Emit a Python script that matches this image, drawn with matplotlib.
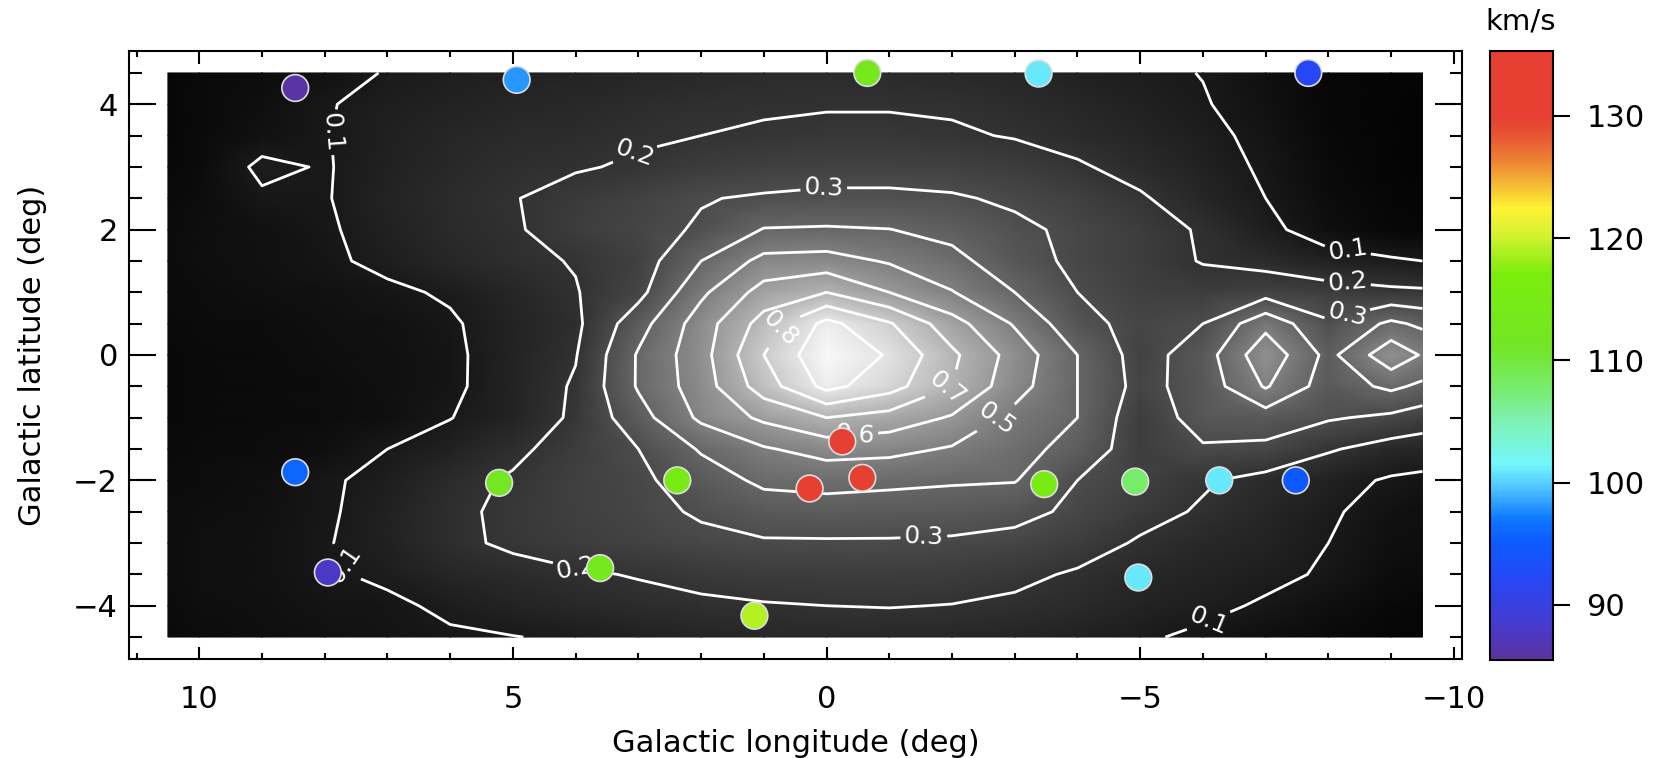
import numpy as np
import matplotlib
matplotlib.use("Agg")
import matplotlib.pyplot as plt
from matplotlib.colors import LinearSegmentedColormap
from matplotlib.ticker import MultipleLocator

plt.rcParams['font.family'] = ['DejaVu Sans']

# -----------------------
# Density map (coarse grid)
# -----------------------
lon_grid = [10.5, 10, 9, 8, 7, 6, 5, 4, 3, 2, 1, 0, -1, -2, -3, -4, -5, -6, -7, -8, -9, -9.5]
lat_grid = [4.5, 4.0, 3.5, 3.0, 2.5, 2.0, 1.5, 1.0, 0.5, 0.0,
            -0.5, -1.0, -1.5, -2.0, -2.5, -3.0, -3.5, -4.0, -4.5]

density = [
    [0.03, 0.04, 0.05, 0.07, 0.105, 0.12, 0.13, 0.14, 0.15, 0.16, 0.17, 0.17, 0.17, 0.16, 0.15, 0.13, 0.115, 0.098, 0.06, 0.03, 0.02, 0.02],
    [0.03, 0.04, 0.06, 0.095, 0.12, 0.135, 0.15, 0.16, 0.175, 0.185, 0.19, 0.195, 0.195, 0.19, 0.175, 0.155, 0.13, 0.105, 0.07, 0.03, 0.02, 0.015],
    [0.03, 0.04, 0.07, 0.097, 0.125, 0.15, 0.165, 0.175, 0.19, 0.2, 0.21, 0.215, 0.215, 0.21, 0.195, 0.17, 0.145, 0.12, 0.08, 0.035, 0.02, 0.015],
    [0.035, 0.045, 0.115, 0.095, 0.13, 0.16, 0.18, 0.193, 0.21, 0.235, 0.25, 0.26, 0.26, 0.255, 0.24, 0.21, 0.17, 0.13, 0.09, 0.04, 0.02, 0.015],
    [0.04, 0.05, 0.09, 0.095, 0.14, 0.17, 0.196, 0.23, 0.26, 0.295, 0.31, 0.32, 0.32, 0.31, 0.285, 0.25, 0.21, 0.15, 0.1, 0.05, 0.025, 0.02],
    [0.045, 0.055, 0.07, 0.09, 0.13, 0.165, 0.19, 0.24, 0.27, 0.31, 0.405, 0.41, 0.402, 0.37, 0.32, 0.28, 0.24, 0.19, 0.12, 0.06, 0.03, 0.025],
    [0.045, 0.055, 0.07, 0.085, 0.12, 0.155, 0.18, 0.205, 0.25, 0.4, 0.53, 0.54, 0.49, 0.43, 0.34, 0.28, 0.24, 0.195, 0.17, 0.13, 0.11, 0.1],
    [0.045, 0.05, 0.06, 0.07, 0.085, 0.11, 0.15, 0.195, 0.27, 0.48, 0.64, 0.7, 0.6, 0.505, 0.4, 0.3, 0.25, 0.24, 0.26, 0.24, 0.22, 0.215],
    [0.04, 0.045, 0.05, 0.06, 0.07, 0.09, 0.14, 0.18, 0.36, 0.55, 0.74, 0.93, 0.81, 0.64, 0.49, 0.33, 0.27, 0.3, 0.47, 0.31, 0.42, 0.38],
    [0.035, 0.04, 0.045, 0.055, 0.065, 0.085, 0.138, 0.195, 0.41, 0.56, 0.8, 0.98, 0.89, 0.72, 0.56, 0.4, 0.26, 0.35, 0.57, 0.37, 0.57, 0.49],
    [0.035, 0.04, 0.045, 0.05, 0.065, 0.085, 0.14, 0.21, 0.41, 0.55, 0.75, 0.93, 0.84, 0.7, 0.54, 0.4, 0.27, 0.34, 0.51, 0.35, 0.42, 0.38],
    [0.035, 0.04, 0.045, 0.05, 0.06, 0.098, 0.14, 0.215, 0.36, 0.52, 0.62, 0.7, 0.66, 0.59, 0.47, 0.4, 0.24, 0.34, 0.35, 0.31, 0.28, 0.25],
    [0.04, 0.045, 0.05, 0.06, 0.1, 0.13, 0.18, 0.24, 0.3, 0.41, 0.49, 0.54, 0.53, 0.49, 0.43, 0.37, 0.24, 0.29, 0.28, 0.21, 0.16, 0.15],
    [0.045, 0.05, 0.06, 0.09, 0.12, 0.17, 0.21, 0.25, 0.28, 0.35, 0.42, 0.43, 0.42, 0.41, 0.405, 0.3, 0.25, 0.21, 0.17, 0.13, 0.09, 0.08],
    [0.05, 0.055, 0.065, 0.09, 0.13, 0.18, 0.22, 0.25, 0.275, 0.31, 0.35, 0.36, 0.355, 0.35, 0.33, 0.28, 0.23, 0.19, 0.15, 0.11, 0.07, 0.06],
    [0.05, 0.06, 0.07, 0.095, 0.13, 0.18, 0.215, 0.24, 0.26, 0.28, 0.29, 0.29, 0.29, 0.285, 0.27, 0.24, 0.19, 0.16, 0.14, 0.1, 0.06, 0.055],
    [0.05, 0.06, 0.07, 0.09, 0.115, 0.15, 0.17, 0.19, 0.205, 0.225, 0.235, 0.24, 0.24, 0.235, 0.22, 0.19, 0.16, 0.14, 0.12, 0.09, 0.05, 0.045],
    [0.045, 0.055, 0.065, 0.08, 0.085, 0.115, 0.14, 0.16, 0.175, 0.185, 0.195, 0.2, 0.203, 0.198, 0.185, 0.165, 0.14, 0.12, 0.09, 0.06, 0.035, 0.03],
    [0.04, 0.05, 0.06, 0.07, 0.08, 0.09, 0.098, 0.11, 0.13, 0.145, 0.155, 0.16, 0.16, 0.155, 0.145, 0.13, 0.11, 0.085, 0.06, 0.04, 0.025, 0.02],
]

contour_levels = [0.1, 0.2, 0.3, 0.4, 0.5, 0.6, 0.7, 0.8, 0.9]

# -----------------------
# Fields (velocity in km/s)
# -----------------------
field_lon = [8.47, 4.94, -0.65, -3.38, -7.68, 8.47, 5.22, 2.38, -0.25, 0.27,
             -0.57, -3.47, -4.92, -6.26, -7.48, 7.95, 3.61, -4.97, 1.15]
field_lat = [4.26, 4.39, 4.5, 4.49, 4.5, -1.87, -2.04, -2.0, -1.38, -2.13,
             -1.96, -2.06, -2.02, -2.0, -2.0, -3.47, -3.4, -3.55, -4.16]
field_vel = [86, 98, 113, 101, 92, 96, 112, 115, 131, 131,
             131, 115, 108, 101, 95, 88, 113, 101, 119]

vel_min, vel_max = 85.5, 135.3
cbar_ticks = [90, 100, 110, 120, 130]

# rainbow like the colour bar of the figure
stops = [
    (85.5, (0.36, 0.20, 0.62)),
    (88.5, (0.27, 0.23, 0.82)),
    (92.0, (0.15, 0.28, 0.96)),
    (95.0, (0.05, 0.35, 1.00)),
    (97.0, (0.05, 0.47, 1.00)),
    (99.4, (0.30, 0.75, 1.00)),
    (101.5, (0.45, 0.97, 0.98)),
    (104.5, (0.50, 0.95, 0.75)),
    (107.5, (0.47, 0.93, 0.45)),
    (111.0, (0.45, 0.90, 0.15)),
    (117.0, (0.48, 0.93, 0.05)),
    (120.5, (0.85, 0.95, 0.20)),
    (122.5, (1.00, 0.95, 0.20)),
    (124.5, (0.96, 0.72, 0.20)),
    (126.5, (0.93, 0.50, 0.20)),
    (128.5, (0.91, 0.33, 0.20)),
    (130.0, (0.90, 0.25, 0.20)),
    (135.3, (0.90, 0.25, 0.20)),
]
vel_cmap = LinearSegmentedColormap.from_list(
    "vel", [((v - vel_min) / (vel_max - vel_min), c) for v, c in stops])

# -----------------------
# Figure
# -----------------------
W, H = 1663, 758
fig = plt.figure(figsize=(W / 100, H / 100), dpi=100)
ax = fig.add_axes([129 / W, 1 - 659 / H, (1462 - 129) / W, (659 - 51) / H])

LON, LAT = np.meshgrid(lon_grid, lat_grid)
Z = np.array(density)

ax.pcolormesh(LON, LAT, Z, shading='gouraud', cmap='gray', vmin=0.0, vmax=1.0,
              zorder=0)

label_pos = {
    0.1: [(7.85, 3.55), (7.7, -3.35), (-6.05, -4.15), (-8.3, 1.62)],
    0.2: [(3.05, 3.2), (4.0, -3.42), (-8.3, 1.12)],
    0.3: [(0.05, 2.72), (-1.55, -2.88), (-8.3, 0.64)],
    0.5: [(-2.7, -1.0)],
    0.6: [(-0.45, -1.28)],
    0.7: [(-1.95, -0.62)],
    0.8: [(0.72, 0.42)],
}

# one contour set per level so each label lands on its own line
for lev in contour_levels:
    cs = ax.contour(LON, LAT, Z, levels=[lev], colors='white',
                    linewidths=2.0, zorder=2)
    if lev in label_pos:
        ax.clabel(cs, inline=True, fmt='%.1f', fontsize=18,
                  colors='white', manual=label_pos[lev])

sc = ax.scatter(field_lon, field_lat, c=field_vel, cmap=vel_cmap,
                vmin=vel_min, vmax=vel_max, s=370, edgecolors='#dddddd',
                linewidths=1.2, zorder=5, clip_on=False)

ax.set_xlim(11.12, -10.13)
ax.set_ylim(-4.85, 4.85)

ax.xaxis.set_major_locator(MultipleLocator(5))
ax.xaxis.set_minor_locator(MultipleLocator(1))
ax.yaxis.set_major_locator(MultipleLocator(2))
ax.yaxis.set_minor_locator(MultipleLocator(0.5))

ax.tick_params(which='both', direction='in', top=True, right=True, width=1.5,
               labelsize=22, color='black')
ax.tick_params(axis='x', which='major', length=9, pad=18.5)
ax.tick_params(axis='x', which='minor', length=4.5)
ax.tick_params(axis='y', which='major', length=19.5, pad=8)
ax.tick_params(axis='y', which='minor', length=9)
for sp in ax.spines.values():
    sp.set_linewidth(1.5)

ax.set_xlabel("Galactic longitude (deg)", fontsize=22, va='center')
ax.xaxis.set_label_coords(0.5, (659 - 743) / 608)
ax.set_ylabel("Galactic latitude (deg)", fontsize=22, va='center')
ax.yaxis.set_label_coords((33 - 129) / 1333, 0.5)

# -----------------------
# Colour bar
# -----------------------
cax = fig.add_axes([1490 / W, 1 - 660 / H, 63 / W, 609 / H])
cb = fig.colorbar(sc, cax=cax, ticks=cbar_ticks)
cb.outline.set_linewidth(1.5)
cax.tick_params(direction='out', length=12, width=1.5, labelsize=22, pad=12)
fig.text(1521 / W, 1 - 22 / H, "km/s", ha='center', va='center', fontsize=21)

fig.savefig("out.png", dpi=100)
